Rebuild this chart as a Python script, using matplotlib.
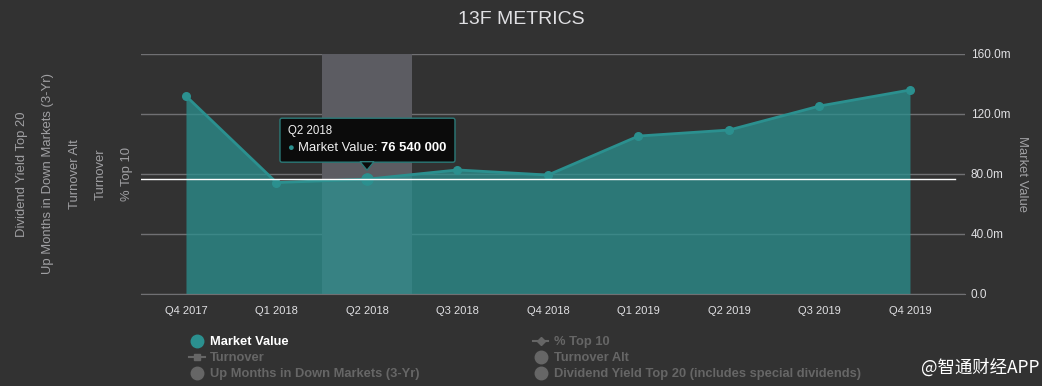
import numpy as np
import matplotlib.pyplot as plt
import matplotlib.patches as mpatches
import matplotlib.transforms as mtransforms
from matplotlib.lines import Line2D

plt.rcParams['font.family'] = ['Liberation Sans', 'DejaVu Sans']

# data
quarters = ["Q4 2017", "Q1 2018", "Q2 2018", "Q3 2018", "Q4 2018",
            "Q1 2019", "Q2 2019", "Q3 2019", "Q4 2019"]
market_value = [132.0, 74.3, 76.54, 82.7, 79.3, 105.3, 109.3, 125.3, 136.0]  # millions
y_ticks = [0, 40, 80, 120, 160]
y_tick_labels = ["0.0", "40.0m", "80.0m", "120.0m", "160.0m"]
hidden_axis_titles = ["Dividend Yield Top 20", "Up Months in Down Markets (3-Yr)",
                      "Turnover Alt", "Turnover", "% Top 10"]
hover_index = 2

BG = "#323232"
TEAL = "#2b908f"
GRID = "#707073"
TXT = "#e0e0e3"
MUTED = "#a0a0a3"
OFF = "#666666"

W, H = 1042, 386
fig = plt.figure(figsize=(W / 100, H / 100), dpi=100, facecolor=BG)
ax = fig.add_axes([141 / W, (H - 294) / H, 824 / W, 240 / H])
ax.set_facecolor(BG)

x = np.arange(len(quarters))

# hover band (crosshair)
ax.axvspan(hover_index - 0.5, hover_index + 0.5, color="#5c5c62", zorder=1, lw=0)

ax.fill_between(x, market_value, 0, color=TEAL, alpha=0.75, lw=0, zorder=2)
ax.plot(x, market_value, color=TEAL, lw=2, zorder=3)
ax.scatter(x, market_value, s=30, color=TEAL, zorder=4)
ax.scatter([hover_index], [market_value[hover_index]], s=65, color=TEAL, zorder=5)

# y crosshair
ax.axhline(market_value[hover_index], xmin=0, xmax=0.988, color="white", lw=1, zorder=6)

ax.set_xlim(-0.497, 8.608)
ax.set_ylim(0, 160)
ax.set_yticks(y_ticks)
ax.set_yticklabels(y_tick_labels)
ax.yaxis.tick_right()
ax.set_xticks(x)
ax.set_xticklabels(quarters)
ax.tick_params(axis="y", length=0, pad=4, labelsize=8.5, labelcolor=TXT)
ax.tick_params(axis="x", length=0, pad=9, labelsize=8, labelcolor=TXT)
ax.grid(axis="y", color=GRID, lw=1, zorder=0)
ax.set_axisbelow(True)
for s in ["top", "left", "right"]:
    ax.spines[s].set_visible(False)
ax.spines["bottom"].set_color(GRID)

# titles
fig.text(0.5, 1 - 20 / H, "13F METRICS", ha="center", va="center",
         fontsize=14, color=TXT)
for xp, t in zip([22, 48, 75, 101, 127], hidden_axis_titles):
    fig.text(xp / W, 1 - 174 / H, t, rotation=90, ha="center", va="center",
             fontsize=9.4, color=MUTED)
fig.text(1022 / W, 1 - 174 / H, "Market Value", rotation=270, ha="center",
         va="center", fontsize=9.4, color=MUTED)

# tooltip anchored on hovered point
fig.canvas.draw()
px, py = ax.transData.transform((hover_index, market_value[hover_index]))
ident = mtransforms.IdentityTransform()
box = mpatches.FancyBboxPatch((px - 87, py + 17), 175, 44,
                              boxstyle="round,pad=0,rounding_size=2",
                              facecolor="#0b0b0b", edgecolor="#2b7a78", lw=1,
                              transform=ident, zorder=10)
fig.patches.append(box)
tri = mpatches.Polygon([(px - 7, py + 17.5), (px + 7, py + 17.5), (px, py + 9)],
                       closed=True, facecolor="#0b0b0b", edgecolor="#2b7a78", lw=1,
                       transform=ident, zorder=10)
fig.patches.append(tri)
fig.text(px - 79, py + 48, quarters[hover_index], fontsize=8.3, color="#f0f0f0",
         va="center", transform=ident, zorder=11)
fig.text(px - 77, py + 31, "\u25cf", fontsize=8, color=TEAL, va="center", ha="center",
         transform=ident, zorder=11)
lab = fig.text(px - 69, py + 31, "Market Value: ", fontsize=9.4, color="#f0f0f0",
               va="center", transform=ident, zorder=11)
fig.canvas.draw()
bb = lab.get_window_extent()
mv_str = f"{int(round(market_value[hover_index] * 1e6)):,}".replace(",", " ")
fig.text(bb.x1, py + 31, mv_str, fontsize=9.4, color="white", fontweight="bold",
         va="center", transform=ident, zorder=11)

# legend
handles = [
    Line2D([], [], marker="o", ls="none", ms=9, color=TEAL),
    Line2D([], [], marker="s", ls="-", ms=5, lw=1.5, color=OFF),
    Line2D([], [], marker="o", ls="none", ms=9, color=OFF),
    Line2D([], [], marker="D", ls="-", ms=4, lw=1.5, color=OFF),
    Line2D([], [], marker="o", ls="none", ms=9, color=OFF),
    Line2D([], [], marker="o", ls="none", ms=9, color=OFF),
]
labels = ["Market Value", "Turnover", "Up Months in Down Markets (3-Yr)",
          "% Top 10", "Turnover Alt", "Dividend Yield Top 20 (includes special dividends)"]
leg = fig.legend(handles, labels, ncol=2, loc="upper left",
                 bbox_to_anchor=(189 / W, 1 - 336 / H), frameon=False,
                 prop={"weight": "bold", "size": 9.3}, labelspacing=0.32,
                 handlelength=1.2, handletextpad=0.45, columnspacing=8.75,
                 borderpad=0, borderaxespad=0)
for i, t in enumerate(leg.get_texts()):
    t.set_color("white" if i == 0 else OFF)

fig.text(1 - 2 / W, 1 - 368 / H, "@智通财经APP", ha="right", va="center",
         fontsize=12.5, color="white",
         family=["Noto Sans CJK SC", "DejaVu Sans"])

fig.savefig("out.png", dpi=100, facecolor=BG)
